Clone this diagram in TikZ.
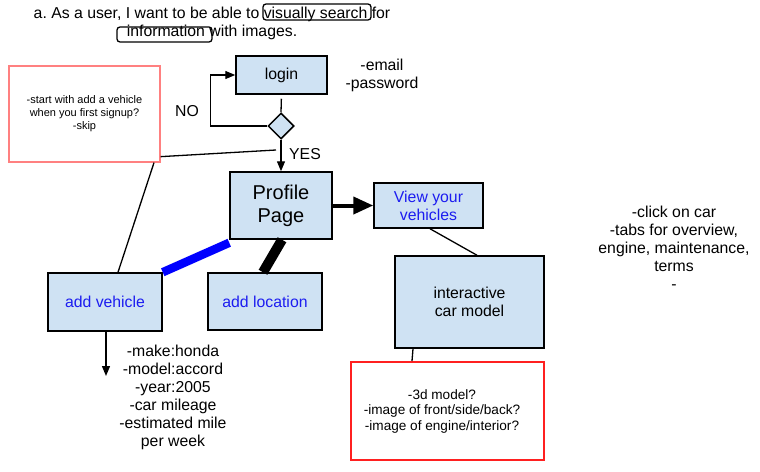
\documentclass[tikz,border=0pt]{standalone}
\usepackage{fontspec}
\setmainfont{Liberation Sans}
\frenchspacing
\usetikzlibrary{shapes.geometric,arrows.meta}
\definecolor{boxfill}{HTML}{CFE2F3}
\definecolor{bluetxt}{HTML}{1C1CF0}
\definecolor{lightred}{HTML}{FF8080}
\definecolor{strongred}{HTML}{FF2020}
\tikzset{
  bx/.style={draw=black,line width=1.5pt,fill=boxfill,inner sep=0pt,align=center,font=\fontsize{15.8}{18}\selectfont},
  bluet/.style={text=bluetxt},
  note/.style={inner sep=0pt,align=center,font=\fontsize{15.8}{18}\selectfont},
  conn/.style={draw=black,line width=1.3pt},
  arr/.style={conn,-{Triangle[length=10pt,width=8pt]}},
  hl/.style={draw=black,line width=1.3pt,rounded corners=3pt}
}
\begin{document}
\begin{tikzpicture}[x=1pt,y=-1pt]
\useasboundingbox (0,0) rectangle (760,471);
\fill[white] (0,0) rectangle (760,471);
% title
\node[note] (title) at (212,23) {a. As a user, I want to be able to visually search for\\information with images.};
\node[hl,minimum width=108pt,minimum height=16pt] (hlvis) at (317,12) {};
\node[hl,minimum width=95pt,minimum height=15pt] (hlinfo) at (164.5,34.5) {};
% boxes
\node[bx,minimum width=91pt,minimum height=38pt] (login) at (281.5,75) {login};
\node[bx,shape=diamond,minimum width=26pt,minimum height=26pt] (dia) at (281,126) {};
\node[bx,minimum width=102pt,minimum height=67pt,font=\fontsize{20}{23}\selectfont] (profile) at (281,205.5) {Profile\\Page};
\node[bx,bluet,minimum width=109pt,minimum height=45pt] (view) at (428.5,205.5) {View your\\vehicles};
\node[bx,bluet,minimum width=114pt,minimum height=58pt] (addveh) at (105,302) {add vehicle};
\node[bx,bluet,minimum width=114pt,minimum height=57pt] (addloc) at (265,301.5) {add location};
\node[bx,minimum width=149pt,minimum height=92pt] (car) at (469.5,302) {interactive\\car model};
\node[draw=lightred,line width=1.3pt,fill=white,inner sep=0pt,align=center,minimum width=151pt,minimum height=96pt,font=\fontsize{11}{13}\selectfont] (red1) at (84.5,114) {-start with add a vehicle\\when you first signup?\\-skip};
\node[draw=strongred,line width=2pt,fill=white,inner sep=0pt,align=center,minimum width=193pt,minimum height=98pt,font=\fontsize{13.6}{15.5}\selectfont] (red2) at (447.5,411) {\hspace*{-11pt}-3d model?\\\hspace*{-11pt}-image of front/side/back?\\\hspace*{-11pt}-image of engine/interior?};
% free texts
\node[note] (cred) at (382,75) {-email\\-password};
\node[note] (nolbl) at (187,111) {NO};
\node[note] (yeslbl) at (305,154) {YES};
\node[note] (attrs) at (173,397) {-make:honda\\-model:accord\\-year:2005\\-car mileage\\-estimated mile\\per week};
\node[note] (tabs) at (674,248) {-click on car\\-tabs for overview,\\engine, maintenance,\\terms\\-};
% connectors
\coordinate (j1) at (276,150);
\coordinate (avend) at (106,376);
\draw[conn,shorten <=4pt] (login.south) -- (dia.north);
\draw[arr] (dia.west) -- ++(-57,0) |- (login.west);
\draw[arr] (dia.south) -- (profile.north);
\draw[conn] ([yshift=6pt]red1.south east) -- (j1);
\draw[conn] ([xshift=13pt]addveh.north) -- ([xshift=69.5pt]red1.south);
\draw[draw=black,line width=4pt,-{Triangle[length=20pt,width=17pt]}] ([xshift=-2pt]profile.east) -- (view.west);
\draw[draw=blue,line width=8.5pt] ([yshift=-3pt]profile.south west) -- (addveh.north east);
\draw[draw=black,line width=10pt] ([xshift=1pt]profile.south) -- ([xshift=-2pt]addloc.north);
\draw[conn] ([xshift=1.5pt]view.south) -- ([xshift=7.5pt]car.north);
\draw[conn] ([xshift=-56.5pt]car.south) -- ([xshift=-35.5pt]red2.north);
\draw[arr] ([xshift=1pt]addveh.south) -- (avend);
\end{tikzpicture}
\end{document}
